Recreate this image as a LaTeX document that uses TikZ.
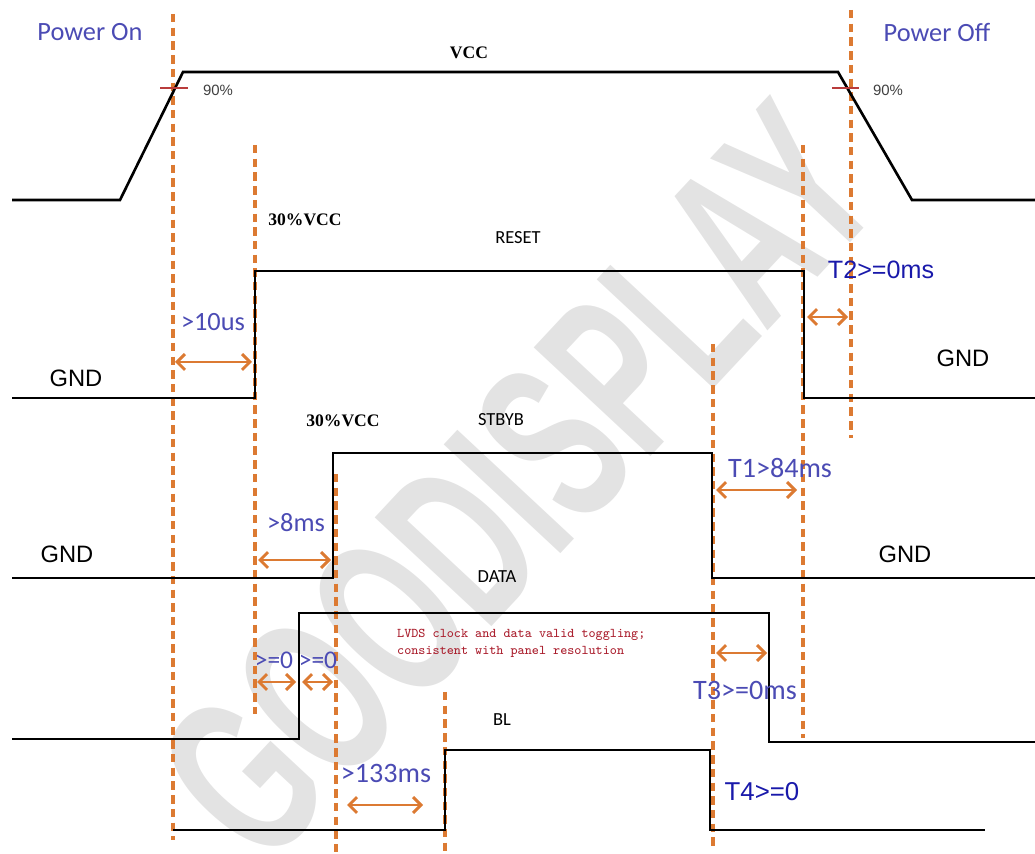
\documentclass[tikz,border=0pt]{standalone}
\usepackage{fontspec}
\setmainfont{Liberation Sans}
\newfontfamily\calfont{Carlito}
\newfontfamily\serfont{Liberation Serif}
\usepackage{xcolor}
\usetikzlibrary{arrows.meta}

\definecolor{guideorange}{RGB}{220,122,50}
\definecolor{tblue}{RGB}{75,75,180}
\definecolor{tnavy}{RGB}{25,25,170}
\definecolor{lvdsred}{RGB}{170,30,45}
\definecolor{tickred}{RGB}{185,60,60}

\begin{document}
\begin{tikzpicture}[x=0.02cm, y=-0.02cm, >={Straight Barb[length=4.5pt,width=9pt]},
  sig/.style={line width=1.5pt},
  guide/.style={guideorange, line width=1.9pt, dash pattern=on 4.8pt off 3pt},
  gap/.style={<->, guideorange, line width=1.7pt},
  cal/.style={font=\calfont\fontsize{15}{15}\selectfont, text=tblue},
  arl/.style={font=\fontsize{14.3}{14.3}\selectfont, text=tnavy}]
\useasboundingbox (0,0) rectangle (1035,854);

% watermark
\node[rotate=47, xscale=0.6, text=black!11, font=\fontsize{132}{132}\selectfont\bfseries] (wm) at (518,482) {GOODISPLAY};

% dashed time marks
\draw[guide] (173,14) -- (173,840);
\draw[guide] (255,145) -- (255,714);
\draw[guide] (336,474) -- (336,854);
\draw[guide] (445,692) -- (445,854);
\draw[guide] (713,344) -- (713,850);
\draw[guide] (803,145) -- (803,738);
\draw[guide] (851,10) -- (851,438);

% signals
\draw[sig] (12,200) -- (120,200) -- (183,72) -- (838,72) -- (912,200) -- (1035,200);
\draw[sig] (12,398) -- (255,398) -- (255,271) -- (804,271) -- (804,398) -- (1035,398);
\draw[sig] (12,578) -- (333,578) -- (333,453) -- (712,453) -- (712,578) -- (1035,578);
\draw[sig] (12,739) -- (299,739) -- (299,613) -- (769,613) -- (769,742) -- (1035,742);
\draw[sig] (173,830) -- (445,830) -- (445,750) -- (710,750) -- (710,830) -- (985,830);

% 90% ticks
\draw[tickred, line width=1pt] (160,88) -- (188,88);
\draw[tickred, line width=1pt] (832,88) -- (859,88);

% gap arrows
\draw[gap] (175,362) -- (252,362);
\draw[gap] (807,317) -- (848,317);
\draw[gap] (258,560) -- (331,560);
\draw[gap] (716,490) -- (797,490);
\draw[gap] (257,682) -- (296,682);
\draw[gap] (302,682) -- (333,682);
\draw[gap] (716,653) -- (767,653);
\draw[gap] (347,805) -- (423,805);

% labels
\node[cal] (pon) at (90,32) {Power On};
\node[cal] (poff) at (937,32) {Power Off};
\node[font=\serfont\bfseries\fontsize{10}{10}\selectfont] (vcc) at (469,53) {VCC};
\node[font=\fontsize{8.5}{8.5}\selectfont, text=black!75] (p90a) at (218,90) {90\%};
\node[font=\fontsize{8.5}{8.5}\selectfont, text=black!75] (p90b) at (888,90) {90\%};
\node[font=\serfont\bfseries\fontsize{10}{10}\selectfont] (v30a) at (305,220) {30\%VCC};
\node[font=\serfont\bfseries\fontsize{10}{10}\selectfont] (v30b) at (343,421) {30\%VCC};
\node[font=\calfont\fontsize{10.5}{10.5}\selectfont] (reset) at (518,238) {RESET};
\node[font=\calfont\fontsize{10.5}{10.5}\selectfont] (stbyb) at (501,420) {STBYB};
\node[font=\calfont\fontsize{10.5}{10.5}\selectfont] (data) at (497,577) {DATA};
\node[font=\calfont\fontsize{10.5}{10.5}\selectfont] (bl) at (502,720) {BL};
\node[font=\fontsize{13.5}{13.5}\selectfont] (gnda) at (76,378) {GND};
\node[font=\fontsize{13.5}{13.5}\selectfont] (gndb) at (963,358) {GND};
\node[font=\fontsize{13.5}{13.5}\selectfont] (gndc) at (67,554) {GND};
\node[font=\fontsize{13.5}{13.5}\selectfont] (gndd) at (905,554) {GND};
\node[cal] (t10us) at (213,322) {>10us};
\node[cal] (t8ms) at (296,523) {>8ms};
\node[cal, font=\calfont\fontsize{14.5}{14.5}\selectfont] (tgea) at (274,660) {>=0};
\node[cal, font=\calfont\fontsize{14.5}{14.5}\selectfont] (tgeb) at (318,660) {>=0};
\node[cal, font=\calfont\fontsize{16}{16}\selectfont] (t133) at (386,773) {>133ms};
\node[cal, font=\calfont\fontsize{16}{16}\selectfont] (t1) at (780,468) {T1>84ms};
\node[cal, font=\calfont\fontsize{16}{16}\selectfont] (t3) at (745,690) {T3>=0ms};
\node[arl] (t2) at (881,270) {T2>=0ms};
\node[arl, font=\fontsize{14.7}{14.7}\selectfont] (t4) at (762,792) {T4>=0};
\node[anchor=west, align=left, text=lvdsred, font=\ttfamily\fontsize{7.6}{9.6}\selectfont] (lvds) at (391,643)
  {LVDS clock and data valid toggling;\\consistent with panel resolution};
\end{tikzpicture}
\end{document}
